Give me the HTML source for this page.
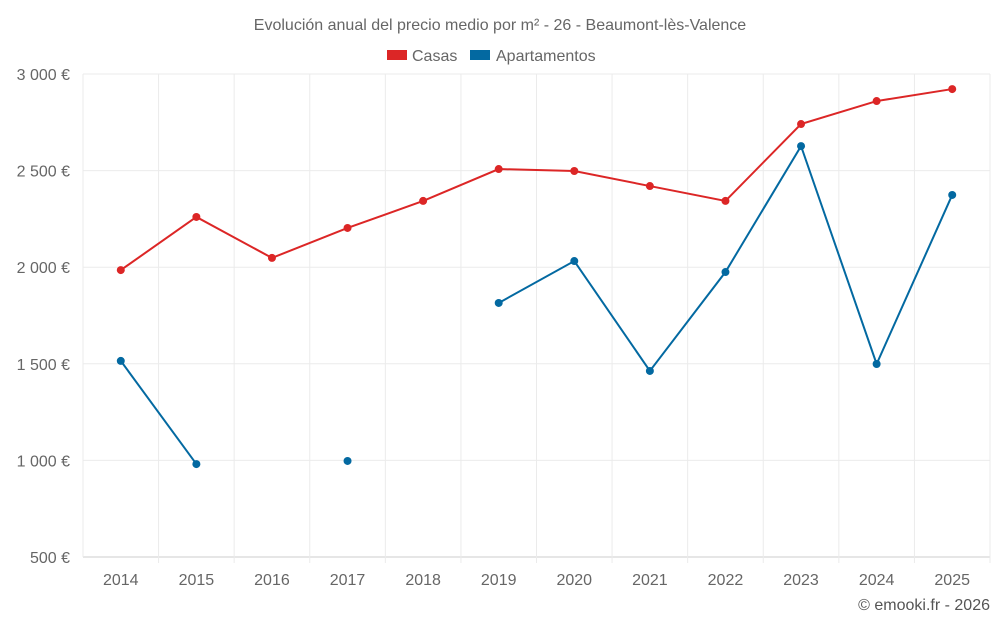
<!DOCTYPE html>
<html><head><meta charset="utf-8"><style>
body{margin:0;background:#fff;font-family:"Liberation Sans",sans-serif;}
svg text{font-family:"Liberation Sans",sans-serif;}
</style></head><body>
<svg id="c" width="1000" height="625">
<text x="500" y="30" text-anchor="middle" font-size="16" fill="#666">Evolución anual del precio medio por m² - 26 - Beaumont-lès-Valence</text>
<g>
<g><rect x="387" y="50" width="20" height="10" fill="#dc2626"/><text x="412" y="61" font-size="16" fill="#666">Casas</text></g>
<g><rect x="470" y="50" width="20" height="10" fill="#0369a1"/><text x="496" y="61" font-size="16" fill="#666">Apartamentos</text></g>
</g>
<g id="grid"></g>
<g id="axes"></g>
<g id="series"></g>
<text x="990" y="610" text-anchor="end" font-size="16" fill="#555">© emooki.fr - 2026</text>
</svg>
<script>
const years=["2014","2015","2016","2017","2018","2019","2020","2021","2022","2023","2024","2025"];
const casas=[1985,2260,2048,2203,2343,2508,2498,2420,2343,2741,2860,2922];
const apartamentos=[1515,981,null,997,null,1815,2032,1463,1975,2627,1499,2374];
const yTicks=[500,1000,1500,2000,2500,3000];
const yLabels=["500 €","1 000 €","1 500 €","2 000 €","2 500 €","3 000 €"];
const NS="http://www.w3.org/2000/svg";
const L=83,R=990,T=74,B=557;
const x=i=>L+(R-L)/years.length*(i+0.5);
const y=v=>B-(v-500)/2500*(B-T);
function mk(t,a,p){const e=document.createElementNS(NS,t);for(const k in a)e.setAttribute(k,a[k]);p.appendChild(e);return e;}
const g=document.getElementById('grid'),ax=document.getElementById('axes'),s=document.getElementById('series');
yTicks.forEach((v,i)=>{
 const l=mk('line',{x1:L,x2:R,y1:y(v),y2:y(v),stroke:i==0?'#ccc':'#ebebeb'},g);
 
 
 const t=mk('text',{x:70,y:y(v)+6,'text-anchor':'end','font-size':16,fill:'#666'},ax);
 t.textContent=yLabels[i];
 
 
});
for(let i=0;i<=years.length;i++){
 const xx=L+(R-L)/years.length*i;
 const l=mk('line',{x1:xx,x2:xx,y1:T,y2:B+(i==0?0:6),stroke:'#ebebeb'},g);
 
 
}
years.forEach((yr,i)=>{
 const t=mk('text',{x:x(i),y:585,'text-anchor':'middle','font-size':16,fill:'#666'},ax);
 t.textContent=yr;
 
 
});
function draw(data,color,name){
 let seg=[];const segs=[];
 data.forEach((v,i)=>{if(v==null){if(seg.length)segs.push(seg);seg=[];}else seg.push([x(i),y(v)]);});
 if(seg.length)segs.push(seg);
 segs.forEach(sg=>{if(sg.length>1){const p=mk('polyline',{points:sg.map(q=>q.join(',')).join(' '),fill:'none',stroke:color,'stroke-width':2},s);
 
 }});
 data.forEach((v,i)=>{if(v==null)return;const c=mk('circle',{cx:x(i),cy:y(v),r:4,fill:color},s);
 
 });
}
draw(casas,'#dc2626','casas');
draw(apartamentos,'#0369a1','apartamentos');
</script>
</body></html>
